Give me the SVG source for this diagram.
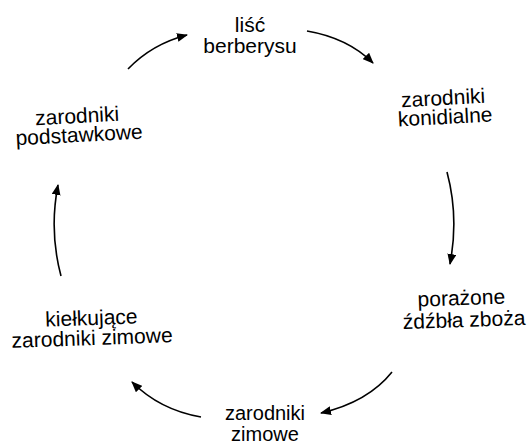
<svg xmlns="http://www.w3.org/2000/svg" width="529" height="444" viewBox="0 0 529 444">
<style>
text{font-family:"Liberation Sans",Arial,sans-serif;font-size:21px;fill:#000;text-anchor:middle}
.c{fill:none;stroke:#000;stroke-width:1.6}
</style>
<defs>
<marker id="ah" markerUnits="userSpaceOnUse" markerWidth="11" markerHeight="9" refX="10" refY="4.5" orient="auto">
<path d="M0,0 L11,4.5 L0,9 z" fill="#000"/>
</marker>
</defs>
<rect width="529" height="444" fill="#fff"/>
<g id="connectors">
<path class="c" d="M128,69 Q152,44 187,35" marker-end="url(#ah)"/>
<path class="c" d="M307,31 Q348,38 373,63" marker-end="url(#ah)"/>
<path class="c" d="M447,172 Q459,217 450,264" marker-end="url(#ah)"/>
<path class="c" d="M392,372 Q368,402 321,413" marker-end="url(#ah)"/>
<path class="c" d="M201,417 Q160,410 132,382" marker-end="url(#ah)"/>
<path class="c" d="M61,276 Q49,231 58,185" marker-end="url(#ah)"/>
</g>
<g id="lisc">
<text x="250" y="32">liść</text>
<text x="250" y="53">berberysu</text>
</g>
<g id="konidialne" transform="rotate(-3 444 114)">
<text x="444" y="105">zarodniki</text>
<text x="445" y="124">konidialne</text>
</g>
<g id="porazone" transform="rotate(-2 463 316)">
<text x="462" y="305">porażone</text>
<text x="464" y="327">źdźbła zboża</text>
</g>
<g id="zimowe" style="font-size:20px">
<text x="265" y="420" style="font-size:20px">zarodniki</text>
<text x="265" y="441" style="font-size:20px">zimowe</text>
</g>
<g id="kielkujace" transform="rotate(-2 92 335)">
<text x="92" y="325">kiełkujące</text>
<text x="92" y="345">zarodniki zimowe</text>
</g>
<g id="podstawkowe" transform="rotate(-3 78 133)">
<text x="78" y="123">zarodniki</text>
<text x="79" y="142">podstawkowe</text>
</g>
</svg>
